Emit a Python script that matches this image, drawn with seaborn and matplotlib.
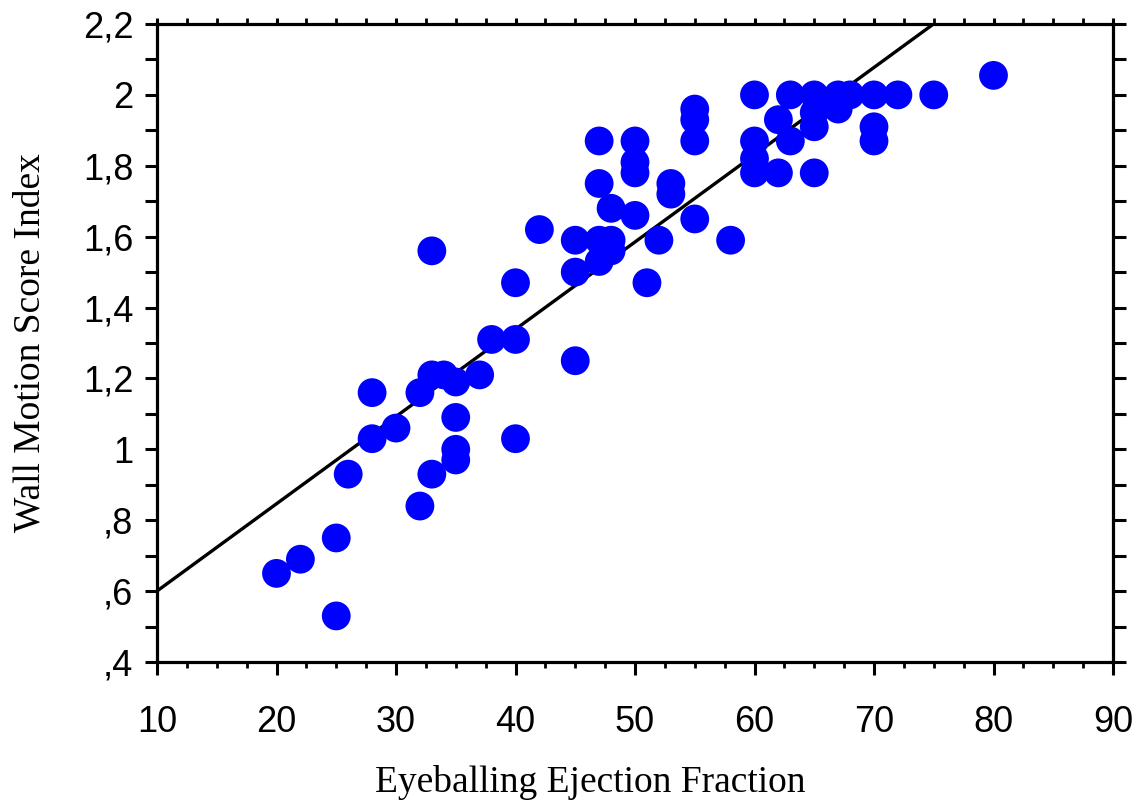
import numpy as np
import pandas as pd
import seaborn as sns
import matplotlib
matplotlib.use("Agg")
import matplotlib.pyplot as plt
from matplotlib.ticker import MultipleLocator, FixedLocator

# ---- data ----
ejection_fraction = [20, 22, 25, 25, 26, 28, 28, 30, 32, 32, 33, 33, 33, 34, 35, 35, 35, 35,
                     37, 38, 40, 40, 40, 42, 45, 45, 45, 47, 47, 47, 47, 48, 48, 48,
                     50, 50, 50, 50, 51, 52, 53, 53, 55, 55, 55, 55, 58,
                     60, 60, 60, 60, 62, 62, 63, 63, 65, 65, 65, 65, 67, 67, 68,
                     70, 70, 70, 72, 75, 80]
wall_motion_index = [0.65, 0.69, 0.75, 0.53, 0.93, 1.16, 1.03, 1.06, 1.16, 0.84, 1.56, 1.21, 0.93, 1.21,
                     1.19, 1.09, 1.00, 0.97, 1.21, 1.31, 1.31, 1.47, 1.03, 1.62, 1.59, 1.50, 1.25,
                     1.87, 1.75, 1.59, 1.53, 1.68, 1.59, 1.56, 1.87, 1.81, 1.78, 1.66, 1.47, 1.59,
                     1.75, 1.72, 1.96, 1.93, 1.87, 1.65, 1.59, 2.00, 1.87, 1.82, 1.78, 1.93, 1.78,
                     2.00, 1.87, 2.00, 1.95, 1.91, 1.78, 2.00, 1.96, 2.00, 2.00, 1.91, 1.87, 2.00,
                     2.00, 2.055]
# fitted line shown in the reference (intercept, slope)
fit_intercept = 0.354
fit_slope = 0.02462
x_ticks = [10, 20, 30, 40, 50, 60, 70, 80, 90]
y_ticks = [0.4, 0.6, 0.8, 1.0, 1.2, 1.4, 1.6, 1.8, 2.0, 2.2]
y_tick_labels = [",4", ",6", ",8", "1", "1,2", "1,4", "1,6", "1,8", "2", "2,2"]
x_label = "Eyeballing Ejection Fraction"
y_label = "Wall Motion Score Index"

df = pd.DataFrame({"ef": ejection_fraction, "wmsi": wall_motion_index})

sns.set_style("white")
plt.rcParams["font.family"] = ["Liberation Sans", "DejaVu Sans"]

fig = plt.figure(figsize=(11.39, 8.07), dpi=100)
ax = fig.add_axes([157 / 1139, 1 - 662 / 807, (1113 - 157) / 1139, (662 - 24) / 807])
ax.set_xlim(10, 90)
ax.set_ylim(0.4, 2.2)

ax.axline((0, fit_intercept), slope=fit_slope, color="black", lw=2.4, zorder=1)
sns.scatterplot(data=df, x="ef", y="wmsi", ax=ax, color="#0000FF", s=430,
                edgecolor="none", linewidth=0, zorder=3, legend=False)

ax.set_xlim(10, 90)
ax.set_ylim(0.4, 2.2)

for sp in ax.spines.values():
    sp.set_visible(True)
    sp.set_color("black")
    sp.set_linewidth(2.3)

ax.xaxis.set_major_locator(FixedLocator(x_ticks))
ax.xaxis.set_minor_locator(MultipleLocator(2.5))
ax.yaxis.set_major_locator(FixedLocator(y_ticks))
ax.yaxis.set_minor_locator(MultipleLocator(0.1))
ax.set_yticklabels(y_tick_labels)

ax.tick_params(axis="x", which="major", direction="out", length=9, width=2.2,
               labelsize=26, pad=22, bottom=True, top=False, color="black", labelcolor="black")
ax.tick_params(axis="x", which="minor", direction="out", length=4.5, width=2.0,
               bottom=True, top=True, color="black")
ax.tick_params(axis="y", which="both", direction="out", length=9, width=2.2,
               left=True, right=True, labelsize=26, pad=8, color="black", labelcolor="black")

for t in ax.xaxis.get_major_ticks():
    t.tick2line.set_visible(True)
    t.tick2line.set_markersize(4.5)

ax.set_xlabel(x_label, fontsize=27, family=["Liberation Serif"], color="black")
ax.set_ylabel(y_label, fontsize=27, family=["Liberation Serif"], color="black")
ax.xaxis.set_label_coords((590 - 157) / 956, -(783 - 662) / 638)
ax.yaxis.set_label_coords(-(157 - 30) / 956, 0.5)
ax.xaxis.label.set_va("center")
ax.yaxis.label.set_va("center")

fig.savefig("out.png", dpi=100)
